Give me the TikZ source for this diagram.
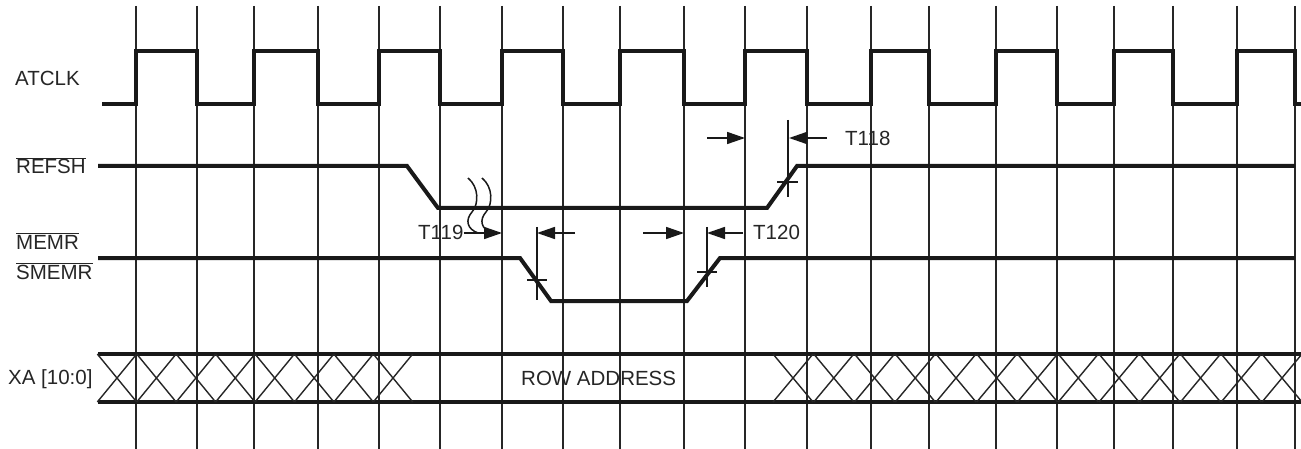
\documentclass[tikz,border=0pt]{standalone}
\usepackage{fontspec}
\setmainfont{Liberation Sans}
\usetikzlibrary{arrows.meta}
\newcommand{\ovl}[1]{$\overline{\hbox{#1}}$}
\tikzset{
  grid/.style={line width=2pt, black!85},
  sig/.style={line width=4pt, black!90, line join=miter},
  thin/.style={line width=1.5pt, black!90},
  cross/.style={line width=1.4pt, black!85},
  dim/.style={line width=1.6pt, black!90, -{Triangle[length=18pt,width=12pt]}},
  lbl/.style={inner sep=0pt, anchor=base west, font=\fontsize{20.5}{24}\selectfont, text=black!85},
}
\begin{document}
\begin{tikzpicture}[x=1pt,y=-1pt]
\useasboundingbox (0,0) rectangle (1301,449);
\fill[white] (0,0) rectangle (1301,449);
% grid lines
\foreach \gx [count=\i] in {136,197,254,318,379,440,502,563,620,684,745,807,871,929,996,1057,1114,1173,1237,1295}
  \draw[grid] (\gx,6) -- (\gx,449);
% labels
\node[lbl] (atclk) at (15,86) {ATCLK};
\node[lbl] (refsh) at (16,174) {\ovl{REFSH}};
\node[lbl] (memr) at (16,249) {\ovl{MEMR}};
\node[lbl] (smemr) at (16,279) {\ovl{SMEMR}};
\node[lbl] (xa) at (8,384) {XA [10:0]};
% clock
\draw[sig] (102,104) -| (136,51) -| (197,104) -| (254,51) -| (318,104) -| (379,51) -| (440,104)
  -| (502,51) -| (563,104) -| (620,51) -| (684,104) -| (745,51) -| (807,104) -| (871,51)
  -| (929,104) -| (996,51) -| (1057,104) -| (1114,51) -| (1173,104) -| (1237,51) -| (1295,104) -- (1303,104);
% REFSH
\draw[sig] (98,166) -- (407,166) -- (438,208) -- (767,208) -- (797,166) -- (1295,166);
% MEMR
\draw[sig] (98,258) -- (520,258) -- (551,301) -- (687,301) -- (720,258) -- (1295,258);
% bus
\draw[sig] (98,354) -- (1303,354);
\draw[sig] (98,402) -- (1303,402);
\begin{scope}
\clip (90,350) rectangle (1301,406);
\foreach \k in {0,...,7}{
  \pgfmathsetmacro{\c}{117+39.43*\k}
  \draw[cross] (\c-19.7,354) -- (\c+19.7,402) (\c-19.7,402) -- (\c+19.7,354);
}
\foreach \k in {0,...,12}{
  \pgfmathsetmacro{\c}{793+40.75*\k}
  \draw[cross] (\c-20,354) -- (\c+20,402) (\c-20,402) -- (\c+20,354);
}
\end{scope}
\node[lbl] (row) at (521,385) {ROW ADDRESS};
% T118
\coordinate (t118a) at (707,138);
\coordinate (t118b) at (745,138);
\coordinate (t118c) at (827,138);
\coordinate (t118d) at (789,138);
\draw[dim] (t118a) -- (t118b);
\draw[dim] (t118c) -- (t118d);
\draw[thin] (788,120) -- (788,197);
\draw[thin] (777,182) -- (798,182);
\node[lbl] (t118) at (845,146) {T118};
% T119
\node[lbl] (t119) at (418,240) {T119};
\coordinate (t119b) at (502,233);
\draw[dim] (t119.east |- t119b) -- (t119b);
\draw[thin] (468,178) .. controls (479,187) and (479,204) .. (472,212) .. controls (465,220) and (467,229) .. (478,233);
\draw[thin] (482,178) .. controls (493,187) and (493,204) .. (486,212) .. controls (479,220) and (481,229) .. (492,233);
% T120 left
\coordinate (t120a) at (575,233);
\coordinate (t120b) at (537,233);
\draw[dim] (t120a) -- (t120b);
\draw[thin] (537,227) -- (537,300);
\draw[thin] (527,280) -- (547,280);
% T120 right
\coordinate (t120c) at (643,233);
\coordinate (t120d) at (684,233);
\draw[dim] (t120c) -- (t120d);
\coordinate (t120e) at (743,233);
\coordinate (t120f) at (707,233);
\draw[dim] (t120e) -- (t120f);
\draw[thin] (707,227) -- (707,287);
\draw[thin] (697,272) -- (717,272);
\node[lbl] (t120) at (753,240) {T120};
\end{tikzpicture}
\end{document}
